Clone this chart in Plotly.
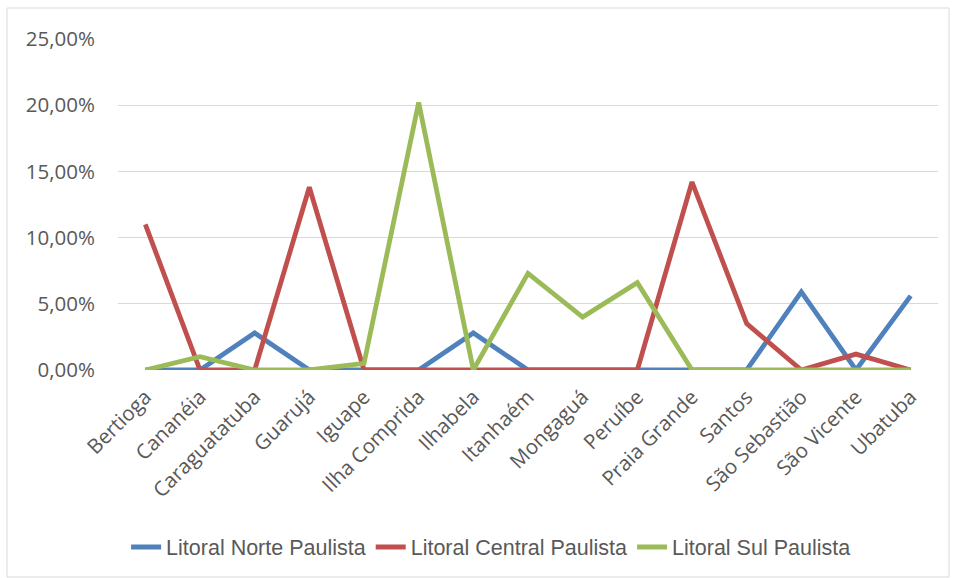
import plotly.graph_objects as go

municipios = ["Bertioga", "Cananéia", "Caraguatatuba", "Guarujá", "Iguape",
              "Ilha Comprida", "Ilhabela", "Itanhaém", "Mongaguá", "Peruíbe",
              "Praia Grande", "Santos", "São Sebastião", "São Vicente", "Ubatuba"]

litoral_norte = [0.0, 0.0, 2.8, 0.0, 0.0, 0.0, 2.8, 0.0, 0.0, 0.0, 0.0, 0.0, 5.9, 0.0, 5.6]
litoral_central = [11.0, 0.0, 0.0, 13.8, 0.0, 0.0, 0.0, 0.0, 0.0, 0.0, 14.2, 3.5, 0.0, 1.2, 0.0]
litoral_sul = [0.0, 1.0, 0.0, 0.0, 0.5, 20.2, 0.0, 7.3, 4.0, 6.6, 0.0, 0.0, 0.0, 0.0, 0.0]

y_ticks = [0, 5, 10, 15, 20, 25]
y_labels = ["0,00%", "5,00%", "10,00%", "15,00%", "20,00%", "25,00%"]

series = [
    ("Litoral Norte Paulista", litoral_norte, "#4F81BD"),
    ("Litoral Central Paulista", litoral_central, "#C0504D"),
    ("Litoral Sul Paulista", litoral_sul, "#9BBB59"),
]

fig = go.Figure()
for name, vals, color in series:
    fig.add_trace(go.Scatter(
        x=municipios, y=vals, name=name, mode="lines",
        line=dict(color=color, width=4.8),
    ))

W, H = 956, 578
ml, mr, mt, mb = 118, 18, 39, 208
pw, ph = W - ml - mr, H - mt - mb

fig.update_layout(
    width=W, height=H,
    margin=dict(l=ml, r=mr, t=mt, b=mb, autoexpand=False),
    paper_bgcolor="white", plot_bgcolor="white",
    font=dict(family="Open Sans, DejaVu Sans, sans-serif", size=20, color="#595959"),
    showlegend=True,
    legend=dict(
        orientation="h", x=0.455, xanchor="center",
        y=(mt + ph - 547) / ph, yanchor="middle",
        font=dict(family="Liberation Sans, sans-serif", size=21.5, color="#595959"),
        itemwidth=30, tracegroupgap=0,
        traceorder="normal",
    ),
    xaxis=dict(
        type="category", range=[-0.5, len(municipios) - 0.5],
        tickangle=-45, showgrid=False,
        showline=False, ticks="", zeroline=False,
        tickfont=dict(size=20.5), ticklabelstandoff=10,
    ),
    yaxis=dict(
        range=[0, 25], tickvals=y_ticks, ticktext=y_labels,
        showgrid=True, gridcolor="#D9D9D9", gridwidth=1.3,
        zeroline=False, showline=False, ticks="",
        tickfont=dict(size=20.5), ticklabelstandoff=22,
    ),
    shapes=[dict(
        type="rect", xref="paper", yref="paper",
        x0=(7 - ml) / pw, x1=(949 - ml) / pw,
        y0=(mt + ph - 577) / ph, y1=(mt + ph - 8) / ph,
        line=dict(color="#D9D9D9", width=1), fillcolor="rgba(0,0,0,0)",
        layer="below",
    )],
)

fig.write_html("out.html")
